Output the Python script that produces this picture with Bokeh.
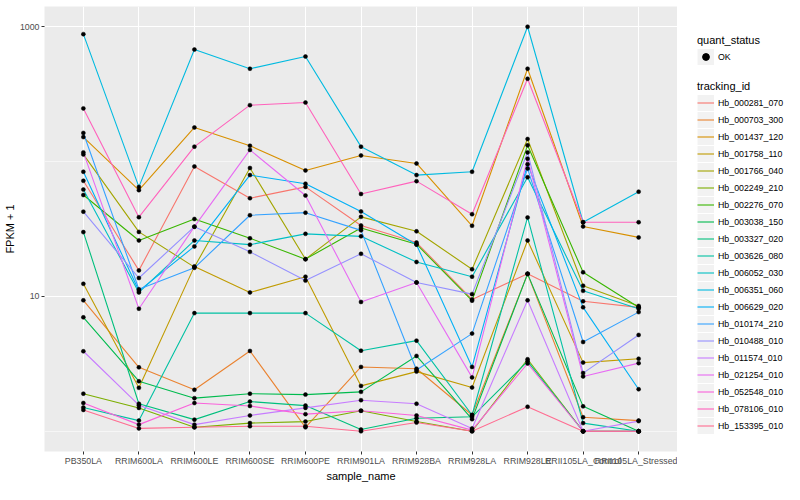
from bokeh.plotting import figure
from bokeh.layouts import row
from bokeh.models import FactorRange, Range1d, FixedTicker, Legend, LegendItem, ColumnDataSource
from bokeh.embed import file_html
from bokeh.resources import INLINE

samples = ["PB350LA", "RRIM600LA", "RRIM600LE", "RRIM600SE", "RRIM600PE", "RRIM901LA",
           "RRIM928BA", "RRIM928LA", "RRIM928LE", "RRII105LA_Control", "RRII105LA_Stressed"]

genes = ["Hb_000281_070", "Hb_000703_300", "Hb_001437_120", "Hb_001758_110", "Hb_001766_040",
         "Hb_002249_210", "Hb_002276_070", "Hb_003038_150", "Hb_003327_020", "Hb_003626_080",
         "Hb_006052_030", "Hb_006351_060", "Hb_006629_020", "Hb_010174_210", "Hb_010488_010",
         "Hb_011574_010", "Hb_021254_010", "Hb_052548_010", "Hb_078106_010", "Hb_153395_010"]

colors = ["#F8766D", "#EA8331", "#D89000", "#C09B00", "#A3A500", "#7CAE00", "#39B600", "#00BB4E",
          "#00BF7D", "#00C1A3", "#00BFC4", "#00BAE0", "#00B0F6", "#35A2FF", "#9590FF", "#C77CFF",
          "#E76BF3", "#FA62DB", "#FF62BC", "#FF6C91"]

# FPKM + 1 per sample (order of `samples`)
Hb_000281_070 = [72, 15.6, 92, 53.5, 64.9, 33.6, 25.1, 9.5, 14.7, 9.2, 8.3]
Hb_000703_300 = [9.36, 2.98, 2.03, 3.94, 1.07, 3.0, 2.91, 1.32, 14.7, 1.27, 1.2]
Hb_001437_120 = [152, 61.4, 179, 131, 86, 111, 96.8, 33.4, 488, 33, 27.4]
Hb_001758_110 = [12.4, 2.10, 16.7, 10.7, 14.0, 2.17, 2.77, 2.11, 26, 3.23, 3.45]
Hb_001766_040 = [113, 30.1, 16.5, 89.6, 18.9, 38.9, 30.4, 15.9, 147, 12.0, 8.5]
Hb_002249_210 = [1.90, 1.49, 1.07, 1.15, 1.18, 1.42, 1.18, 1.0, 3.42, 1.0, 1.0]
Hb_002276_070 = [56.5, 26.0, 37.5, 27, 18.9, 32.2, 24.4, 9.3, 132, 15.1, 8.3]
Hb_003038_150 = [7.0, 2.35, 1.76, 1.90, 1.87, 1.96, 3.62, 1.23, 14.7, 1.53, 1.0]
Hb_003327_020 = [30, 1.60, 1.22, 1.66, 1.55, 1.03, 1.25, 1.28, 3.3, 1.0, 1.0]
Hb_003626_080 = [1.50, 1.20, 7.52, 7.52, 7.52, 3.96, 4.7, 1.32, 38.5, 1.15, 1.0]
Hb_006052_030 = [62, 10.7, 26.0, 24.2, 29.1, 27.9, 18.0, 14.0, 76.5, 11.0, 8.1]
Hb_006351_060 = [881, 64.9, 677, 488, 601, 129, 79.4, 84, 1000, 35.5, 59.8]
Hb_006629_020 = [84, 11.0, 23.5, 79.4, 68.5, 42.7, 24.2, 3.0, 95.7, 8.3, 2.05]
Hb_010174_210 = [163, 11.3, 16.3, 40, 41.8, 30.9, 2.85, 5.3, 88.7, 4.59, 7.65]
Hb_010488_010 = [42.5, 13.7, 32.9, 21.4, 13.1, 20.7, 12.7, 10.4, 117, 2.70, 5.18]
Hb_011574_010 = [3.92, 1.56, 1.12, 1.31, 1.49, 1.70, 1.60, 1.05, 9.36, 1.0, 1.19]
Hb_021254_010 = [117, 8.1, 32.9, 122, 56, 9.1, 12.7, 2.51, 105, 2.55, 3.2]
Hb_052548_010 = [1.62, 1.12, 1.62, 1.54, 1.34, 1.42, 1.31, 1.02, 3.18, 1.0, 1.0]
Hb_078106_010 = [248, 38.7, 129, 262, 274, 57.5, 71.6, 40.7, 411, 35.5, 35.5]
Hb_153395_010 = [1.44, 1.05, 1.07, 1.09, 1.09, 1.0, 1.16, 1.0, 1.52, 1.0, 1.0]

series = [Hb_000281_070, Hb_000703_300, Hb_001437_120, Hb_001758_110, Hb_001766_040,
          Hb_002249_210, Hb_002276_070, Hb_003038_150, Hb_003327_020, Hb_003626_080,
          Hb_006052_030, Hb_006351_060, Hb_006629_020, Hb_010174_210, Hb_010488_010,
          Hb_011574_010, Hb_021254_010, Hb_052548_010, Hb_078106_010, Hb_153395_010]

FONT = "Liberation Sans"
H = 484
W_MAIN = 677
NAN = float("nan")

p = figure(x_range=FactorRange(factors=samples, range_padding=0.2, range_padding_units="absolute"),
           y_range=Range1d(10 ** -0.15, 10 ** 3.15), y_axis_type="log",
           width=W_MAIN, height=H, min_border_left=37, min_border_right=0,
           min_border_top=6, min_border_bottom=30,
           output_backend="svg", toolbar_location=None)

p.background_fill_color = "#EBEBEB"
p.border_fill_color = "white"
p.outline_line_color = None

p.xgrid.grid_line_color = "white"
p.xgrid.grid_line_width = 1.1
p.ygrid.grid_line_color = "white"
p.ygrid.grid_line_width = 1.1
p.ygrid.minor_grid_line_color = "white"
p.ygrid.minor_grid_line_width = 0.55

p.yaxis.ticker = FixedTicker(ticks=[10, 1000], minor_ticks=[1, 100])
p.yaxis.major_label_overrides = {10: "10", 1000: "1000"}

for ax in (p.xaxis[0], p.yaxis[0]):
    ax.axis_line_color = None
    ax.major_tick_line_color = "#333333"
    ax.major_tick_out = 3
    ax.major_tick_in = 0
    ax.minor_tick_line_color = None
    ax.major_label_text_font = FONT
    ax.major_label_text_font_size = "8.8px"
    ax.major_label_text_color = "#4D4D4D"
    ax.major_label_standoff = 1
    ax.axis_label_text_font = FONT
    ax.axis_label_text_font_size = "11px"
    ax.axis_label_text_font_style = "normal"
    ax.axis_label_text_color = "black"
    ax.axis_label_standoff = 1

p.xaxis.axis_label = "sample_name"
p.yaxis.axis_label = "FPKM + 1"

px, py = [], []
for c, vals in zip(colors, series):
    p.line(samples, vals, line_color=c, line_width=1.1)
    px.extend(samples)
    py.extend(vals)

p.scatter(x="x", y="y", source=ColumnDataSource(dict(x=px, y=py)),
          size=4, fill_color="black", line_color="black", line_width=0.5)

# ---- legend panel (keys only; NaN placeholders so nothing is plotted) ----
leg = figure(width=784 - W_MAIN, height=H, x_range=Range1d(0, 1), y_range=Range1d(0, 1),
             x_axis_type=None, y_axis_type=None, min_border=0,
             output_backend="svg", toolbar_location=None)
leg.outline_line_color = None
leg.background_fill_color = "white"
leg.border_fill_color = "white"
leg.grid.visible = False

key_bg = leg.line(x=[NAN], y=[NAN], line_color="#F2F2F2", line_width=16)
key_pt = leg.scatter(x=[NAN], y=[NAN], size=4, fill_color="black", line_color="black")
line_items = []
for g, c in zip(genes, colors):
    kr = leg.line(x=[NAN], y=[NAN], line_color=c, line_width=1.1)
    line_items.append(LegendItem(label=g, renderers=[key_bg, kr]))


def style_legend(lg):
    lg.title_text_font = FONT
    lg.title_text_font_size = "11px"
    lg.title_text_font_style = "normal"
    lg.title_text_color = "black"
    lg.title_standoff = 2
    lg.label_text_font = FONT
    lg.label_text_font_size = "8.8px"
    lg.label_text_color = "black"
    lg.glyph_width = 17
    lg.glyph_height = 17
    lg.label_height = 17
    lg.label_standoff = 4
    lg.spacing = 0
    lg.padding = 0
    lg.margin = 0
    lg.border_line_color = None
    lg.background_fill_alpha = 0


lg_q = Legend(items=[LegendItem(label="OK", renderers=[key_bg, key_pt])], title="quant_status",
              location=(20, 386))
style_legend(lg_q)
lg_t = Legend(items=line_items, title="tracking_id", location=(20, 17))
style_legend(lg_t)
leg.add_layout(lg_q, "center")
leg.add_layout(lg_t, "center")

layout = row(p, leg)
open("out.html", "w").write(file_html(layout, INLINE))
